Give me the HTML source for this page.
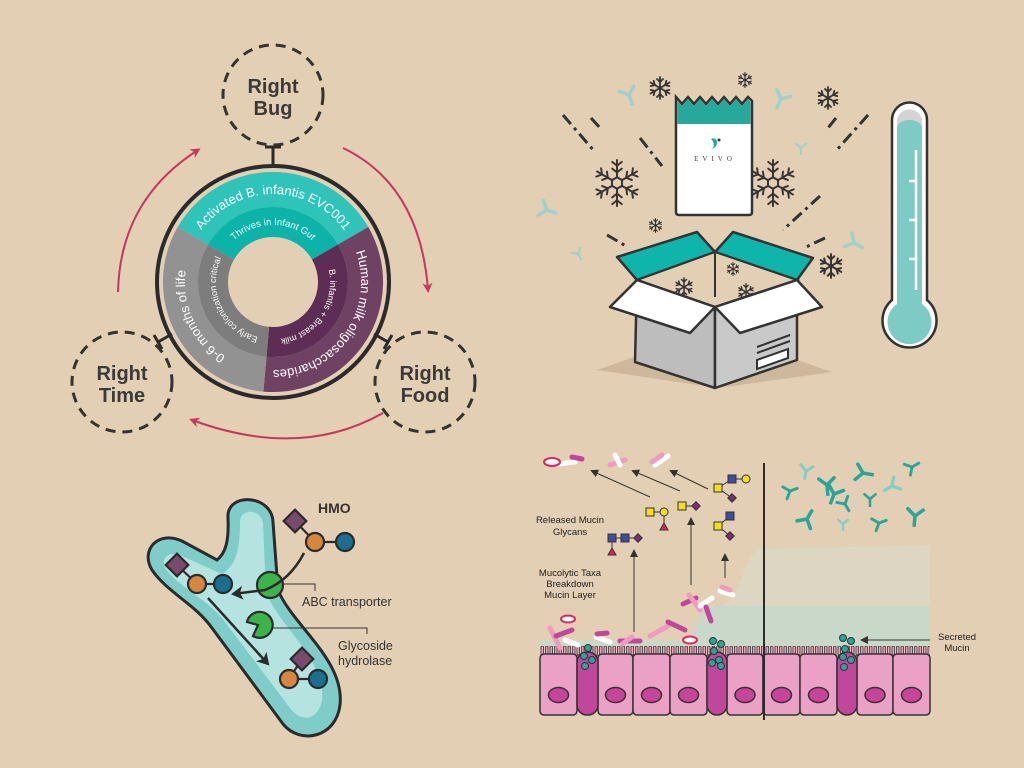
<!DOCTYPE html>
<html><head><meta charset="utf-8"><style>
html,body{margin:0;padding:0;background:#e3cfb4;}
svg{display:block;font-family:"Liberation Sans",sans-serif;}
</style></head><body>
<svg width="1024" height="768" viewBox="0 0 1024 768" xmlns="http://www.w3.org/2000/svg">
<defs>
<marker id="pa" markerWidth="10" markerHeight="10" refX="7" refY="5" orient="auto" markerUnits="userSpaceOnUse"><path d="M0,0 L10,5 L0,10 L3,5Z" fill="#c8365f"/></marker>
<marker id="ka" markerWidth="8" markerHeight="8" refX="6" refY="4" orient="auto" markerUnits="userSpaceOnUse"><path d="M0,0 L8,4 L0,8 Z" fill="#333"/></marker>
<marker id="kb" markerWidth="14" markerHeight="14" refX="10" refY="7" orient="auto" markerUnits="userSpaceOnUse"><path d="M0,0 L12,7 L0,14 L3,7Z" fill="#2b2b2b"/></marker>
<symbol id="sf" viewBox="-12 -12 24 24"><g stroke="#333" stroke-width="1.8" fill="none" stroke-linecap="round">
<g id="arm"><line x1="0" y1="0" x2="0" y2="-11"/><polyline points="-3,-9 0,-6 3,-9"/></g>
<use href="#arm" transform="rotate(60)"/><use href="#arm" transform="rotate(120)"/><use href="#arm" transform="rotate(180)"/><use href="#arm" transform="rotate(240)"/><use href="#arm" transform="rotate(300)"/></g></symbol>
<symbol id="sfb" viewBox="-26 -26 52 52"><g stroke="#333" stroke-width="2" fill="none" stroke-linecap="round">
<polygon points="0,-6 5.2,-3 5.2,3 0,6 -5.2,3 -5.2,-3"/>
<g id="arm2"><line x1="0" y1="-6" x2="0" y2="-24"/><polyline points="-5,-15 0,-11 5,-15"/><polyline points="-5,-22 0,-18 5,-22"/></g>
<use href="#arm2" transform="rotate(60)"/><use href="#arm2" transform="rotate(120)"/><use href="#arm2" transform="rotate(180)"/><use href="#arm2" transform="rotate(240)"/><use href="#arm2" transform="rotate(300)"/></g></symbol>
<symbol id="ab" viewBox="-10 -10 20 20"><g stroke-width="3.2" stroke-linecap="round" fill="none"><line x1="0" y1="0" x2="0" y2="9"/><line x1="0" y1="0" x2="-7" y2="-6"/><line x1="0" y1="0" x2="7" y2="-6"/></g></symbol>
<pattern id="villi" width="4.5" height="9" patternUnits="userSpaceOnUse" x="540" y="646"><rect width="4.5" height="9" fill="#e3cfb4"/><rect x="1" y="0" width="2.5" height="9" rx="1.2" fill="#eba0c6" stroke="#333" stroke-width="0.8"/></pattern>
<path id="t1" d="M196.8,238 A88 88 0 0 1 349.2,238"/>
<path id="t2" d="M223.6,253.5 A57 57 0 0 1 322.4,253.5"/>
<path id="t3" d="M352.8,244.8 A88 88 0 0 1 265.3,369.7"/>
<path id="t4" d="M324.7,257.9 A57 57 0 0 1 268,338.8"/>
<path id="t5" d="M265.3,369.7 A88 88 0 0 1 200.9,231.5"/>
<path id="t6" d="M268,338.8 A57 57 0 0 1 226.3,249.3"/>
</defs>

<circle cx="273" cy="282" r="116" fill="#e3cfb4" stroke="#2b2b2b" stroke-width="4"/>
<path d="M177.7,227 A110 110 0 0 1 368.3,227 L337.95,244.5 A75 75 0 0 0 208.05,244.5Z" fill="#2ec4b9"/>
<path d="M208.05,244.5 A75 75 0 0 1 337.95,244.5 L312,259.5 A45 45 0 0 0 234,259.5Z" fill="#0bb3a8"/>
<path d="M368.3,227 A110 110 0 0 1 263.4,391.6 L266.5,356.7 A75 75 0 0 0 337.95,244.5Z" fill="#6f4263"/>
<path d="M337.95,244.5 A75 75 0 0 1 266.5,356.7 L269.1,326.8 A45 45 0 0 0 312,259.5Z" fill="#5e2d55"/>
<path d="M263.4,391.6 A110 110 0 0 1 177.7,227 L208.05,244.5 A75 75 0 0 0 266.5,356.7Z" fill="#929292"/>
<path d="M266.5,356.7 A75 75 0 0 1 208.05,244.5 L234,259.5 A45 45 0 0 0 269.1,326.8Z" fill="#7d7d7d"/>
<g fill="#fff">
<text font-size="13"><textPath href="#t1" startOffset="50%" text-anchor="middle">Activated B. infantis EVC001</textPath></text>
<text font-size="9.5"><textPath href="#t2" startOffset="50%" text-anchor="middle">Thrives in Infant Gut</textPath></text>
<text font-size="13"><textPath href="#t3" startOffset="50%" text-anchor="middle">Human milk oligosaccharides</textPath></text>
<text font-size="9"><textPath href="#t4" startOffset="50%" text-anchor="middle">B. infantis + Breast milk</textPath></text>
<text font-size="13"><textPath href="#t5" startOffset="50%" text-anchor="middle">0-6 months of life</textPath></text>
<text font-size="9"><textPath href="#t6" startOffset="50%" text-anchor="middle">Early colonization critical</textPath></text>
</g>
<g fill="none" stroke="#333" stroke-width="3" stroke-dasharray="10 7">
<circle cx="273" cy="95" r="50"/><circle cx="122" cy="382" r="50"/><circle cx="425" cy="382" r="50"/>
</g>
<g stroke="#2b2b2b" stroke-width="3" fill="none">
<line x1="273" y1="147" x2="273" y2="166"/><line x1="265" y1="147" x2="281" y2="147"/>
<line x1="158" y1="342" x2="172" y2="334"/><line x1="154" y1="335" x2="162" y2="349"/>
<line x1="388" y1="342" x2="374" y2="334"/><line x1="392" y1="335" x2="384" y2="349"/>
</g>
<g font-size="20" font-weight="bold" fill="#3a3a3a" text-anchor="middle">
<text x="273" y="93">Right</text><text x="273" y="115">Bug</text>
<text x="122" y="380">Right</text><text x="122" y="402">Time</text>
<text x="425" y="380">Right</text><text x="425" y="402">Food</text>
</g>
<g fill="none" stroke="#c8365f" stroke-width="2">
<path d="M118,292 Q120,200 198,150" marker-end="url(#pa)"/>
<path d="M343,148 Q420,185 428,290" marker-end="url(#pa)"/>
<path d="M383,413 Q300,460 192,420" marker-end="url(#pa)"/>
</g>

<path d="M597,370 L712,330 L832,372 L718,388Z" fill="#cdb89c"/>
<g stroke="#9fd0cc">
<use href="#ab" x="618" y="84" width="22" height="22" transform="rotate(-20 629 95)"/>
<use href="#ab" x="770" y="88" width="22" height="22" transform="rotate(25 781 99)"/>
<use href="#ab" x="536" y="199" width="22" height="22" transform="rotate(-70 547 210)"/>
<use href="#ab" x="794" y="141" width="14" height="14"/>
<use href="#ab" x="843" y="232" width="22" height="22" transform="rotate(-60 854 243)"/>
<use href="#ab" x="571" y="247" width="14" height="14" transform="rotate(-30 578 254)"/>
</g>
<g stroke="#333" stroke-width="3" stroke-dasharray="12 5 3 5">
<line x1="563" y1="115" x2="595" y2="152"/><line x1="591" y1="118" x2="602" y2="130"/>
<line x1="640" y1="138" x2="662" y2="166"/><line x1="607" y1="235" x2="626" y2="246"/>
<line x1="868" y1="115" x2="835" y2="152"/><line x1="836" y1="118" x2="828" y2="128"/>
<line x1="820" y1="196" x2="783" y2="230"/><line x1="825" y1="238" x2="804" y2="248"/>
</g>
<use href="#sf" x="648" y="76" width="24" height="24"/>
<use href="#sf" x="737" y="72" width="16" height="16"/>
<use href="#sf" x="816" y="86" width="24" height="24"/>
<use href="#sfb" x="592" y="158" width="50" height="50"/>
<use href="#sfb" x="748" y="158" width="50" height="50"/>
<use href="#sf" x="648" y="218" width="15" height="15"/>
<use href="#sf" x="818" y="253" width="26" height="26"/>
<path d="M676,97 L682,104 L688,97 L694,104 L700,97 L706,104 L712,97 L718,104 L724,97 L730,104 L736,97 L742,104 L748,97 L752,101 L752,212 Q752,215 749,215 L679,215 Q676,215 676,212 Z" fill="#fff" stroke="#333" stroke-width="2.5"/>
<path d="M677.5,101 L682,106 L688,99 L694,106 L700,99 L706,106 L712,99 L718,106 L724,99 L730,106 L736,99 L742,106 L748,99 L750.5,102 L750.5,124 L677.5,124Z" fill="#26a99a"/>
<path d="M711,139 q4,-2 6,2 q1,5 -5,8 q4,-5 -1,-10z" fill="#26a99a"/><circle cx="719" cy="140" r="1.5" fill="#333"/>
<text x="715" y="161" font-size="7" text-anchor="middle" letter-spacing="4" fill="#444" font-family="Liberation Serif,serif">EVIVO</text>
<path d="M617,257 L697,232 L715,252 L637,280Z" fill="#0db5aa" stroke="#333" stroke-width="2.5" stroke-linejoin="round"/>
<path d="M715,252 L733,232 L813,258 L797,280Z" fill="#0db5aa" stroke="#333" stroke-width="2.5" stroke-linejoin="round"/>
<path d="M637,280 L715,252 L797,280 L715,307Z" fill="#e3cfb4" stroke="#333" stroke-width="2"/>
<use href="#sf" x="674" y="277" width="20" height="20"/>
<use href="#sf" x="726" y="262" width="14" height="14"/>
<use href="#sf" x="737" y="283" width="18" height="18"/>
<line x1="715" y1="253" x2="715" y2="297" stroke="#333" stroke-width="2"/>
<path d="M637,280 L715,307 L715,388 L635,362Z" fill="#bdbdbd" stroke="#333" stroke-width="2.5" stroke-linejoin="round"/>
<path d="M715,307 L797,280 L797,360 L715,388Z" fill="#c9c9c9" stroke="#333" stroke-width="2.5" stroke-linejoin="round"/>
<g stroke="#333" stroke-width="2"><line x1="757" y1="347" x2="790" y2="335"/><line x1="757" y1="353" x2="790" y2="341"/></g>
<path d="M757,360 L788,349 L788,358 L757,369Z" fill="#fff" stroke="#333" stroke-width="2"/>
<path d="M610,307 L637,280 L715,307 L690,333Z" fill="#fff" stroke="#333" stroke-width="2.5" stroke-linejoin="round"/>
<path d="M715,307 L797,280 L822,307 L740,333Z" fill="#fff" stroke="#333" stroke-width="2.5" stroke-linejoin="round"/>
<path d="M892,120 A17.5 17.5 0 0 1 927,120 L927,300 A27 27 0 1 1 892,300 Z" fill="#fff" stroke="#333" stroke-width="2.5"/>
<path d="M897,122 A12.5 12.5 0 0 1 922,122 L922,304 A22 22 0 1 1 897,304 Z" fill="#7ecac5"/>
<path d="M897,122 A12.5 12.5 0 0 1 922,122 L922,128 A12.5 8 0 0 0 897,128 Z" fill="#d3d3d3"/>
<g stroke="#fff" stroke-width="2.5"><line x1="916" y1="150" x2="916" y2="290"/><line x1="909" y1="181" x2="916" y2="181"/><line x1="909" y1="220" x2="916" y2="220"/><line x1="909" y1="259" x2="916" y2="259"/></g>

<path d="M228,518 C226,492 272,494 273,522 L278,590 C292,625 345,660 340,705 C336,738 300,745 283,724 L212,628 C195,604 168,593 152,570 C140,550 158,530 182,541 L217,560 C226,553 229,540 228,518Z" fill="#7fcdc8" stroke="#2b2b2b" stroke-width="3"/>
<path d="M240,522 C240,508 262,508 263,524 L266,592 C280,628 326,660 322,700 C318,722 300,722 290,708 L222,618 C205,598 180,588 165,568 C160,558 170,550 182,556 L222,574 C234,566 240,555 240,522Z" fill="#b5e3df"/>
<g stroke="#2b2b2b" stroke-width="2.2">
<line x1="295" y1="521" x2="315" y2="542"/><line x1="315" y1="542" x2="345" y2="542"/>
<line x1="177" y1="565" x2="197" y2="584"/><line x1="197" y1="584" x2="223" y2="584"/>
<line x1="302" y1="659" x2="289" y2="679"/><line x1="289" y1="679" x2="318" y2="679"/>
</g>
<g stroke="#2b2b2b" stroke-width="2.2">
<rect x="287" y="513" width="16" height="16" fill="#7a4a6c" transform="rotate(45 295 521)"/>
<circle cx="315" cy="542" r="9" fill="#d6863d"/><circle cx="345" cy="542" r="9" fill="#1a6e90"/>
<rect x="169" y="557" width="16" height="16" fill="#7a4a6c" transform="rotate(45 177 565)"/>
<circle cx="197" cy="584" r="9" fill="#d6863d"/><circle cx="223" cy="584" r="9" fill="#1a6e90"/>
<rect x="294" y="651" width="16" height="16" fill="#7a4a6c" transform="rotate(45 302 659)"/>
<circle cx="289" cy="679" r="9" fill="#d6863d"/><circle cx="318" cy="679" r="9" fill="#1a6e90"/>
<circle cx="270" cy="585" r="13" fill="#3db44a"/>
<path d="M258,625 L247,622 A13 13 0 1 1 253,636 Z" fill="#3db44a"/>
</g>
<path d="M304,553 Q290,580 265,590 L233,594" fill="none" stroke="#2b2b2b" stroke-width="2.5" marker-end="url(#kb)"/>
<line x1="208" y1="598" x2="268" y2="664" stroke="#2b2b2b" stroke-width="2.5" marker-end="url(#kb)"/>
<g stroke="#333" stroke-width="1" fill="none"><polyline points="283,584 315,584 315,591"/><polyline points="273,628 367,628 367,634"/></g>
<text x="318" y="513" font-size="14" font-weight="bold" fill="#333">HMO</text>
<g font-size="12.5" fill="#333"><text x="302" y="606">ABC transporter</text><text x="338" y="650">Glycoside</text><text x="338" y="665">hydrolase</text></g>

<path d="M540,640 L690,640 C700,610 705,605 720,605 L930,605 L930,655 L540,655 Z" fill="#c9d8c9"/>
<path d="M722,606 C742,600 742,552 762,549 L930,545 L930,606 Z" fill="#dcd6c2"/>
<rect x="540" y="646" width="390" height="10" fill="url(#villi)"/>
<g stroke="#333" stroke-width="1.5">
<g fill="#eba0c6">
<rect x="540" y="654" width="37" height="61" rx="4"/><rect x="598" y="654" width="35" height="61" rx="4"/><rect x="633" y="654" width="37" height="61" rx="4"/><rect x="670" y="654" width="37" height="61" rx="4"/><rect x="727" y="654" width="36" height="61" rx="4"/><rect x="763" y="654" width="37" height="61" rx="4"/><rect x="800" y="654" width="37" height="61" rx="4"/><rect x="857" y="654" width="36" height="61" rx="4"/><rect x="893" y="654" width="37" height="61" rx="4"/>
</g>
<g fill="#c0479b">
<rect x="577" y="652" width="21" height="63" rx="10"/><rect x="707" y="652" width="20" height="63" rx="10"/><rect x="837" y="652" width="20" height="63" rx="10"/>
</g>
<g fill="#c8449a">
<ellipse cx="558.5" cy="695" rx="10" ry="7.5"/><ellipse cx="615.5" cy="695" rx="10" ry="7.5"/><ellipse cx="651.5" cy="695" rx="10" ry="7.5"/><ellipse cx="688.5" cy="695" rx="10" ry="7.5"/><ellipse cx="745" cy="695" rx="10" ry="7.5"/><ellipse cx="781.5" cy="695" rx="10" ry="7.5"/><ellipse cx="818.5" cy="695" rx="10" ry="7.5"/><ellipse cx="875" cy="695" rx="10" ry="7.5"/><ellipse cx="911.5" cy="695" rx="10" ry="7.5"/>
</g>
</g>
<g fill="#2aa59a" stroke="#333" stroke-width="1">
<circle cx="588" cy="648" r="3.5"/><circle cx="584" cy="656" r="3.5"/><circle cx="592" cy="660" r="3.5"/><circle cx="585" cy="666" r="3.5"/>
<circle cx="713" cy="641" r="3.5"/><circle cx="721" cy="644" r="3.5"/><circle cx="714" cy="651" r="3.5"/><circle cx="719" cy="660" r="3.5"/><circle cx="712" cy="663" r="3.5"/><circle cx="721" cy="666" r="3.5"/>
<circle cx="843" cy="638" r="3.5"/><circle cx="851" cy="641" r="3.5"/><circle cx="845" cy="649" r="3.5"/><circle cx="843" cy="657" r="3.5"/><circle cx="851" cy="660" r="3.5"/><circle cx="844" cy="667" r="3.5"/>
</g>
<line x1="764" y1="463" x2="764" y2="720" stroke="#2b2b2b" stroke-width="2"/>
<g stroke-linecap="round" fill="none">
<line x1="550" y1="628" x2="560" y2="648" stroke="#ef9ac0" stroke-width="5"/>
<line x1="556" y1="636" x2="572" y2="630" stroke="#c0479b" stroke-width="5"/>
<line x1="565" y1="640" x2="578" y2="645" stroke="#fff" stroke-width="5"/>
<line x1="596" y1="637" x2="610" y2="642" stroke="#fff" stroke-width="5"/>
<line x1="597" y1="634" x2="607" y2="633" stroke="#c0479b" stroke-width="5"/>
<line x1="620" y1="641" x2="640" y2="641" stroke="#c0479b" stroke-width="5"/>
<line x1="622" y1="644" x2="632" y2="637" stroke="#ef9ac0" stroke-width="5"/>
<line x1="650" y1="636" x2="668" y2="626" stroke="#ef9ac0" stroke-width="5"/>
<line x1="668" y1="622" x2="685" y2="630" stroke="#c0479b" stroke-width="5"/>
<line x1="683" y1="604" x2="696" y2="598" stroke="#c0479b" stroke-width="5"/>
<line x1="689" y1="595" x2="700" y2="610" stroke="#ef9ac0" stroke-width="5"/>
<line x1="700" y1="606" x2="712" y2="598" stroke="#fff" stroke-width="5"/>
<line x1="706" y1="607" x2="711" y2="621" stroke="#c0479b" stroke-width="5"/>
<line x1="720" y1="591" x2="733" y2="595" stroke="#fff" stroke-width="5"/>
<line x1="722" y1="587" x2="730" y2="590" stroke="#ef9ac0" stroke-width="5"/>
<line x1="558" y1="464" x2="575" y2="462" stroke="#fff" stroke-width="5"/>
<line x1="572" y1="457" x2="582" y2="459" stroke="#c0479b" stroke-width="5"/>
<line x1="610" y1="465" x2="625" y2="460" stroke="#ef9ac0" stroke-width="5"/>
<line x1="615" y1="455" x2="620" y2="465" stroke="#fff" stroke-width="5"/>
<line x1="655" y1="465" x2="668" y2="456" stroke="#fff" stroke-width="5"/>
<line x1="652" y1="462" x2="662" y2="455" stroke="#ef9ac0" stroke-width="5"/>
</g>
<ellipse cx="552" cy="462" rx="8" ry="4" fill="#fff" stroke="#e0245c" stroke-width="2"/>
<ellipse cx="568" cy="619" rx="7" ry="3.5" fill="#fff" stroke="#e0245c" stroke-width="2"/>
<ellipse cx="690" cy="640" rx="7" ry="3.5" fill="#fff" stroke="#e0245c" stroke-width="2"/>
<g stroke="#333" stroke-width="1" fill="none" marker-end="url(#ka)">
<line x1="634" y1="632" x2="634" y2="551"/><line x1="691" y1="585" x2="691" y2="519"/><line x1="725" y1="578" x2="725" y2="555"/>
<line x1="650" y1="497" x2="592" y2="471"/><line x1="680" y1="491" x2="633" y2="471"/><line x1="708" y1="489" x2="671" y2="471"/>
<line x1="930" y1="640" x2="862" y2="640"/>
</g>
<g stroke="#333" stroke-width="1">
<line x1="612" y1="538" x2="638" y2="538"/><line x1="612" y1="538" x2="612" y2="552"/>
<line x1="650" y1="512" x2="664" y2="512"/><line x1="664" y1="512" x2="664" y2="527"/>
<line x1="682" y1="506" x2="696" y2="506"/>
<line x1="718" y1="488" x2="732" y2="479"/><line x1="732" y1="479" x2="746" y2="479"/><line x1="718" y1="488" x2="732" y2="498"/>
<line x1="718" y1="526" x2="730" y2="516"/><line x1="718" y1="526" x2="730" y2="536"/>
<g fill="#3b4ea0"><rect x="608" y="534" width="8" height="8"/><rect x="621" y="534" width="8" height="8"/><rect x="728" y="475" width="8" height="8"/><rect x="726" y="512" width="8" height="8"/></g>
<g fill="#f2e11a"><rect x="646" y="508" width="8" height="8"/><rect x="678" y="502" width="8" height="8"/><rect x="714" y="484" width="8" height="8"/><rect x="714" y="522" width="8" height="8"/><circle cx="664" cy="512" r="4"/><circle cx="746" cy="479" r="4"/></g>
<g fill="#7d2a7f"><rect x="635" y="535" width="6" height="6" transform="rotate(45 638 538)"/><rect x="693" y="503" width="6" height="6" transform="rotate(45 696 506)"/><rect x="729" y="495" width="6" height="6" transform="rotate(45 732 498)"/><rect x="727" y="533" width="6" height="6" transform="rotate(45 730 536)"/></g>
<g fill="#e0245c"><path d="M612,548 L616,555 L608,555Z"/><path d="M664,523 L668,530 L660,530Z"/></g>
</g>
<g stroke="#2aa59a">
<use href="#ab" x="781" y="482" width="18" height="18" transform="rotate(-110 790 491)"/>
<use href="#ab" x="816" y="474" width="22" height="22" transform="rotate(-5 827 485)"/>
<use href="#ab" x="852" y="462" width="22" height="22" transform="rotate(-80 863 473)"/>
<use href="#ab" x="823" y="483" width="22" height="22" transform="rotate(20 834 494)"/>
<use href="#ab" x="836" y="495" width="18" height="18" transform="rotate(-30 845 504)"/>
<use href="#ab" x="862" y="491" width="16" height="16"/>
<use href="#ab" x="903" y="458" width="18" height="18" transform="rotate(-120 912 467)"/>
<use href="#ab" x="796" y="508" width="22" height="22" transform="rotate(-150 807 519)"/>
<use href="#ab" x="870" y="514" width="18" height="18" transform="rotate(-110 879 523)"/>
<use href="#ab" x="904" y="505" width="22" height="22" transform="rotate(5 915 516)"/>
</g>
<g stroke="#7fcfc8">
<use href="#ab" x="797" y="462" width="18" height="18" transform="rotate(10 806 471)"/>
<use href="#ab" x="882" y="476" width="20" height="20" transform="rotate(60 892 486)"/>
<use href="#ab" x="836" y="517" width="14" height="14"/>
</g>
<g font-size="9.5" fill="#222" text-anchor="middle">
<text x="570" y="523">Released Mucin</text><text x="570" y="535">Glycans</text>
<text x="570" y="576">Mucolytic Taxa</text><text x="570" y="587">Breakdown</text><text x="570" y="598">Mucin Layer</text>
<text x="957" y="640">Secreted</text><text x="957" y="651">Mucin</text>
</g>
</svg>
</body></html>
